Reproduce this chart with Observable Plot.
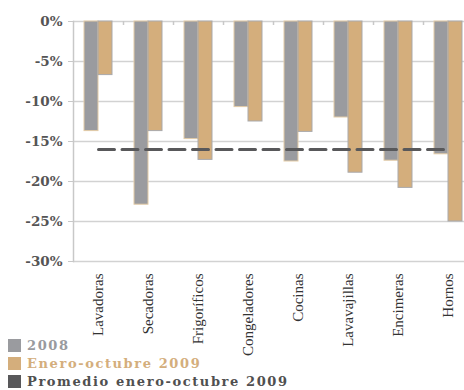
<!DOCTYPE html>
<html>
<head>
<meta charset="utf-8">
<script src="https://cdn.jsdelivr.net/npm/d3@7"></script>
<script src="https://cdn.jsdelivr.net/npm/@observablehq/plot@0.6"></script>
<style>
  body { margin: 0; background: #fff; width: 464px; height: 390px; overflow: hidden; }
  #chart svg { overflow: visible; display: block; }
  #legend { position: relative; font-family: "DejaVu Serif"; font-weight: bold; font-size: 13px; letter-spacing: 1.6px; }
  .row { height: 18px; display: flex; align-items: center; padding-left: 8px; }
  .sw { width: 13px; height: 13px; margin-right: 6px; }
</style>
</head>
<body>
<div id="chart"></div>
<div id="legend"></div>
<script>
const categories = ["Lavadoras", "Secadoras", "Frigoríficos", "Congeladores", "Cocinas", "Lavavajillas", "Encimeras", "Hornos"];
const values2008 = [-13.7, -22.9, -14.7, -10.7, -17.5, -12.0, -17.4, -16.6];
const values2009 = [-6.7, -13.7, -17.3, -12.5, -13.8, -18.9, -20.8, -25.0];
const average2009 = -16.0;
const yTicks = [0, -5, -10, -15, -20, -25, -30];
const seriesNames = ["2008", "Enero-octubre 2009", "Promedio enero-octubre 2009"];

const gray = "#9a9b9f", tan = "#d4ae7c", dark = "#58585a";

const rows = categories.map((c, i) => ({cat: c, v08: values2008[i], v09: values2009[i], avg: average2009}));

const chart = Plot.plot({
  width: 464,
  height: 336,
  marginTop: 21,
  marginBottom: 75,
  marginLeft: 73,
  marginRight: -9,
  style: {background: "transparent", overflow: "visible"},
  x: {domain: categories, paddingInner: 0.44, paddingOuter: 0.22, axis: null, label: null},
  y: {domain: [-30, 0], axis: null, label: null},
  marks: [
    Plot.ruleY(yTicks, {stroke: "#d2d2d2", strokeWidth: 1.5}),
    Plot.barY(rows, {x: "cat", y1: 0, y2: "v08", fill: gray, stroke: "#e3cba6", strokeWidth: 1, insetRight: 14}),
    Plot.barY(rows, {x: "cat", y1: 0, y2: "v09", fill: tan, stroke: "#a9a9ab", strokeWidth: 1, insetLeft: 14}),
    Plot.ruleX(categories, {x: d => d, dx: 25, y1: 0, y2: -0.5, stroke: "#c8c8c8", strokeWidth: 1.5}),
    Plot.lineY(rows, {x: "cat", y: "avg", stroke: dark, strokeWidth: 3, strokeDasharray: "16,7.5"}),
    Plot.frame({anchor: "left", stroke: "#c8c8c8", strokeWidth: 1.5}),
    Plot.axisY(yTicks, {anchor: "left", label: null, tickSize: 5, tickPadding: 6, stroke: "#c8c8c8", tickFormat: d => d + "%",
      fontFamily: "DejaVu Serif", fontWeight: "bold", fontSize: 13.5, fill: "#555", letterSpacing: 1}),
    Plot.axisX({anchor: "bottom", label: null, tickSize: 0, tickPadding: 12, tickRotate: -90,
      fontFamily: "Liberation Serif", fontSize: 15, fill: "#333"})
  ]
});
document.getElementById("chart").appendChild(chart);

const legendColors = [gray, tan, dark];
const legendText = ["#999a9e", "#d4ae7c", "#505050"];
const legend = document.getElementById("legend");
seriesNames.forEach((n, i) => {
  const row = document.createElement("div");
  row.className = "row";
  row.innerHTML = `<div class="sw" style="background:${legendColors[i]}"></div><span style="color:${legendText[i]}">${n}</span>`;
  legend.appendChild(row);
});
</script>
</body>
</html>
